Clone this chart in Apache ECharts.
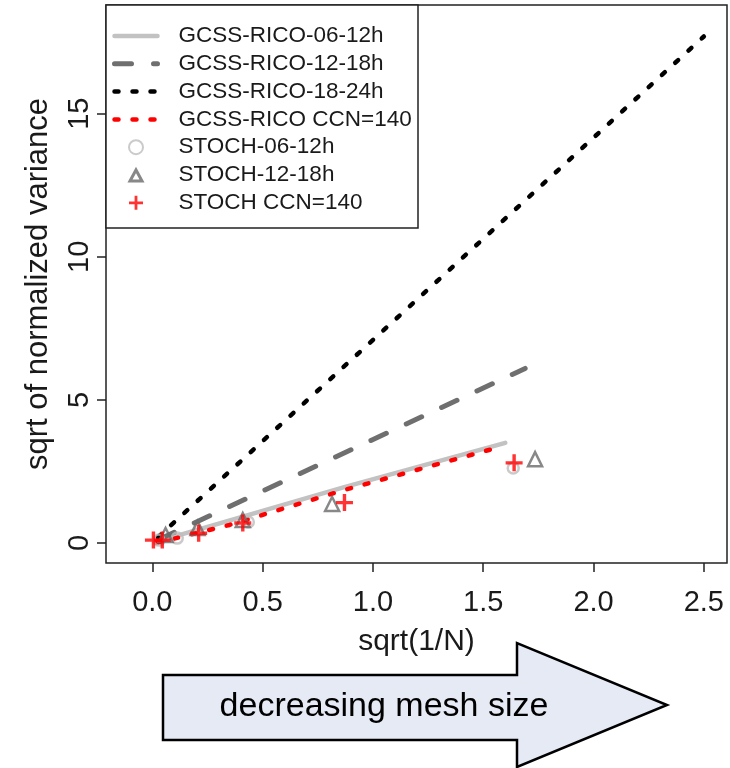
<!DOCTYPE html>
<html><head><meta charset="utf-8">
<script src="https://cdn.jsdelivr.net/npm/echarts@6/dist/echarts.min.js"></script>
<style>html,body{margin:0;padding:0;background:#fff}#c{width:730px;height:768px}</style>
</head><body><div id="c"></div>
<script>
// ---- data ----
const xTicks = [0, 0.5, 1.0, 1.5, 2.0, 2.5];
const yTicks = [0, 5, 10, 15];
const seriesNames = ['GCSS-RICO-06-12h','GCSS-RICO-12-18h','GCSS-RICO-18-24h','GCSS-RICO CCN=140','STOCH-06-12h','STOCH-12-18h','STOCH CCN=140'];
const gcss0612 = [[0.02,0.05],[0.87,1.95],[1.6,3.5]];
const gcss1218 = [[0.03,0.12],[0.815,2.95],[1.69,6.1]];
const gcss1824 = [[0.025,0.2],[2.5,17.7]];
const gcssCCN  = [[0.02,0.0],[0.35,0.63],[0.87,1.85],[1.54,3.28]];
const stoch0612 = [[0.03,0.1],[0.113,0.17],[0.435,0.73],[1.636,2.62]];
const stoch1218 = [[0.06,0.28],[0.205,0.52],[0.41,0.8],[0.815,1.36],[1.735,2.93]];
const stochCCN  = [[0.005,0.1],[0.045,0.1],[0.21,0.34],[0.41,0.7],[0.871,1.41],[1.64,2.8]];

const FONT = '"Liberation Sans", Arial, Helvetica, sans-serif';
const TXT = '#1a1a1a';
const plusPath = 'path://M4,0 H6 V4 H10 V6 H6 V10 H4 V6 H0 V4 H4 Z';
// legend icon for the triangle, padded to the legend item box so it is not stretched
const triIcon = 'path://M0,0 M43,14 M15.5,13 L21.5,2 L27.5,13 Z';

const chart = echarts.init(document.getElementById('c'), null, {renderer:'canvas'});
function lineSeries(name, data, color, width, type){
  return {name, type:'line', data, symbol:'none', animation:false, z:2,
    itemStyle:{color, opacity:0},
    lineStyle:{color, width, type, cap:'round'}};
}
function scatterSeries(name, data, symbol, size, style){
  return {name, type:'scatter', data, symbol, symbolSize:size, animation:false, z:3,
    itemStyle:style};
}
chart.setOption({
  animation:false,
  textStyle:{fontFamily:FONT},
  grid:{left:106, top:5, right:3, bottom:205, show:true, borderColor:'#222', borderWidth:1.5, backgroundColor:'transparent'},
  xAxis:{type:'value', min:-0.21, max:2.605,
    axisLine:{show:false, onZero:false},
    splitLine:{show:false},
    axisTick:{show:true, customValues:xTicks, length:9, lineStyle:{color:'#222', width:1.5}},
    axisLabel:{customValues:xTicks, formatter:v=>Number(v).toFixed(1), fontSize:29, color:TXT, margin:25, fontFamily:FONT},
    name:'sqrt(1/N)', nameLocation:'middle', nameGap:64,
    nameTextStyle:{fontSize:30, color:TXT, fontFamily:FONT}},
  yAxis:{type:'value', min:-0.70, max:18.80,
    axisLine:{show:false, onZero:false},
    splitLine:{show:false},
    axisTick:{show:true, customValues:yTicks, length:9, lineStyle:{color:'#222', width:1.5}},
    axisLabel:{customValues:yTicks, formatter:v=>String(Math.round(v)), rotate:90, fontSize:29, color:TXT, margin:12, fontFamily:FONT},
    name:'sqrt of normalized variance', nameLocation:'middle', nameGap:52, nameRotate:90,
    nameTextStyle:{fontSize:31, color:TXT, fontFamily:FONT}},
  legend:{orient:'vertical', left:106, top:5, padding:[19,10,10,6],
    itemWidth:43, itemHeight:14, itemGap:3.8, z:5,
    textStyle:{fontSize:22.5, color:TXT, fontFamily:FONT, lineHeight:24, padding:[0,0,0,16]},
    data:[
      {name:seriesNames[0], itemStyle:{opacity:0}, lineStyle:{width:4.5}},
      {name:seriesNames[1], itemStyle:{opacity:0}, lineStyle:{width:5}},
      {name:seriesNames[2], itemStyle:{opacity:0}, lineStyle:{width:4.5}},
      {name:seriesNames[3], itemStyle:{opacity:0}, lineStyle:{width:4.5}},
      {name:seriesNames[4], icon:'circle'},
      {name:seriesNames[5], icon:triIcon, itemStyle:{color:'rgba(0,0,0,0)', borderColor:'#6a6a6a', borderWidth:3}},
      {name:seriesNames[6]}
    ]},
  graphic:[
    {type:'rect', z:4, shape:{x:106, y:5, width:312, height:223}, style:{fill:'#fff', stroke:'#222', lineWidth:1.5}},
    {type:'polygon', z:10, shape:{points:[[163,675],[517,675],[517,643],[667,705],[517,767],[517,740],[163,740]]},
      style:{fill:'#e6eaf5', stroke:'#000', lineWidth:2.5}},
    {type:'text', z:11, x:384, y:707, style:{text:'decreasing mesh size', font:'34px '+FONT, fill:'#000', align:'center', verticalAlign:'middle'}}
  ],
  series:[
    lineSeries(seriesNames[0], gcss0612, '#c2c2c2', 4.5, 'solid'),
    lineSeries(seriesNames[1], gcss1218, '#6f6f6f', 5, [17,22]),
    lineSeries(seriesNames[2], gcss1824, '#000000', 4.5, [4,14]),
    lineSeries(seriesNames[3], gcssCCN, '#ff0000', 4.5, [4,14]),
    scatterSeries(seriesNames[4], stoch0612, 'circle', 11, {color:'rgba(0,0,0,0)', borderColor:'#bdbdbd', borderWidth:2.5}),
    scatterSeries(seriesNames[5], stoch1218, 'triangle', 14, {color:'rgba(0,0,0,0)', borderColor:'#6a6a6a', borderWidth:2.5}),
    scatterSeries(seriesNames[6], stochCCN, plusPath, 17, {color:'#ff0000'})
  ]
});
</script></body></html>
